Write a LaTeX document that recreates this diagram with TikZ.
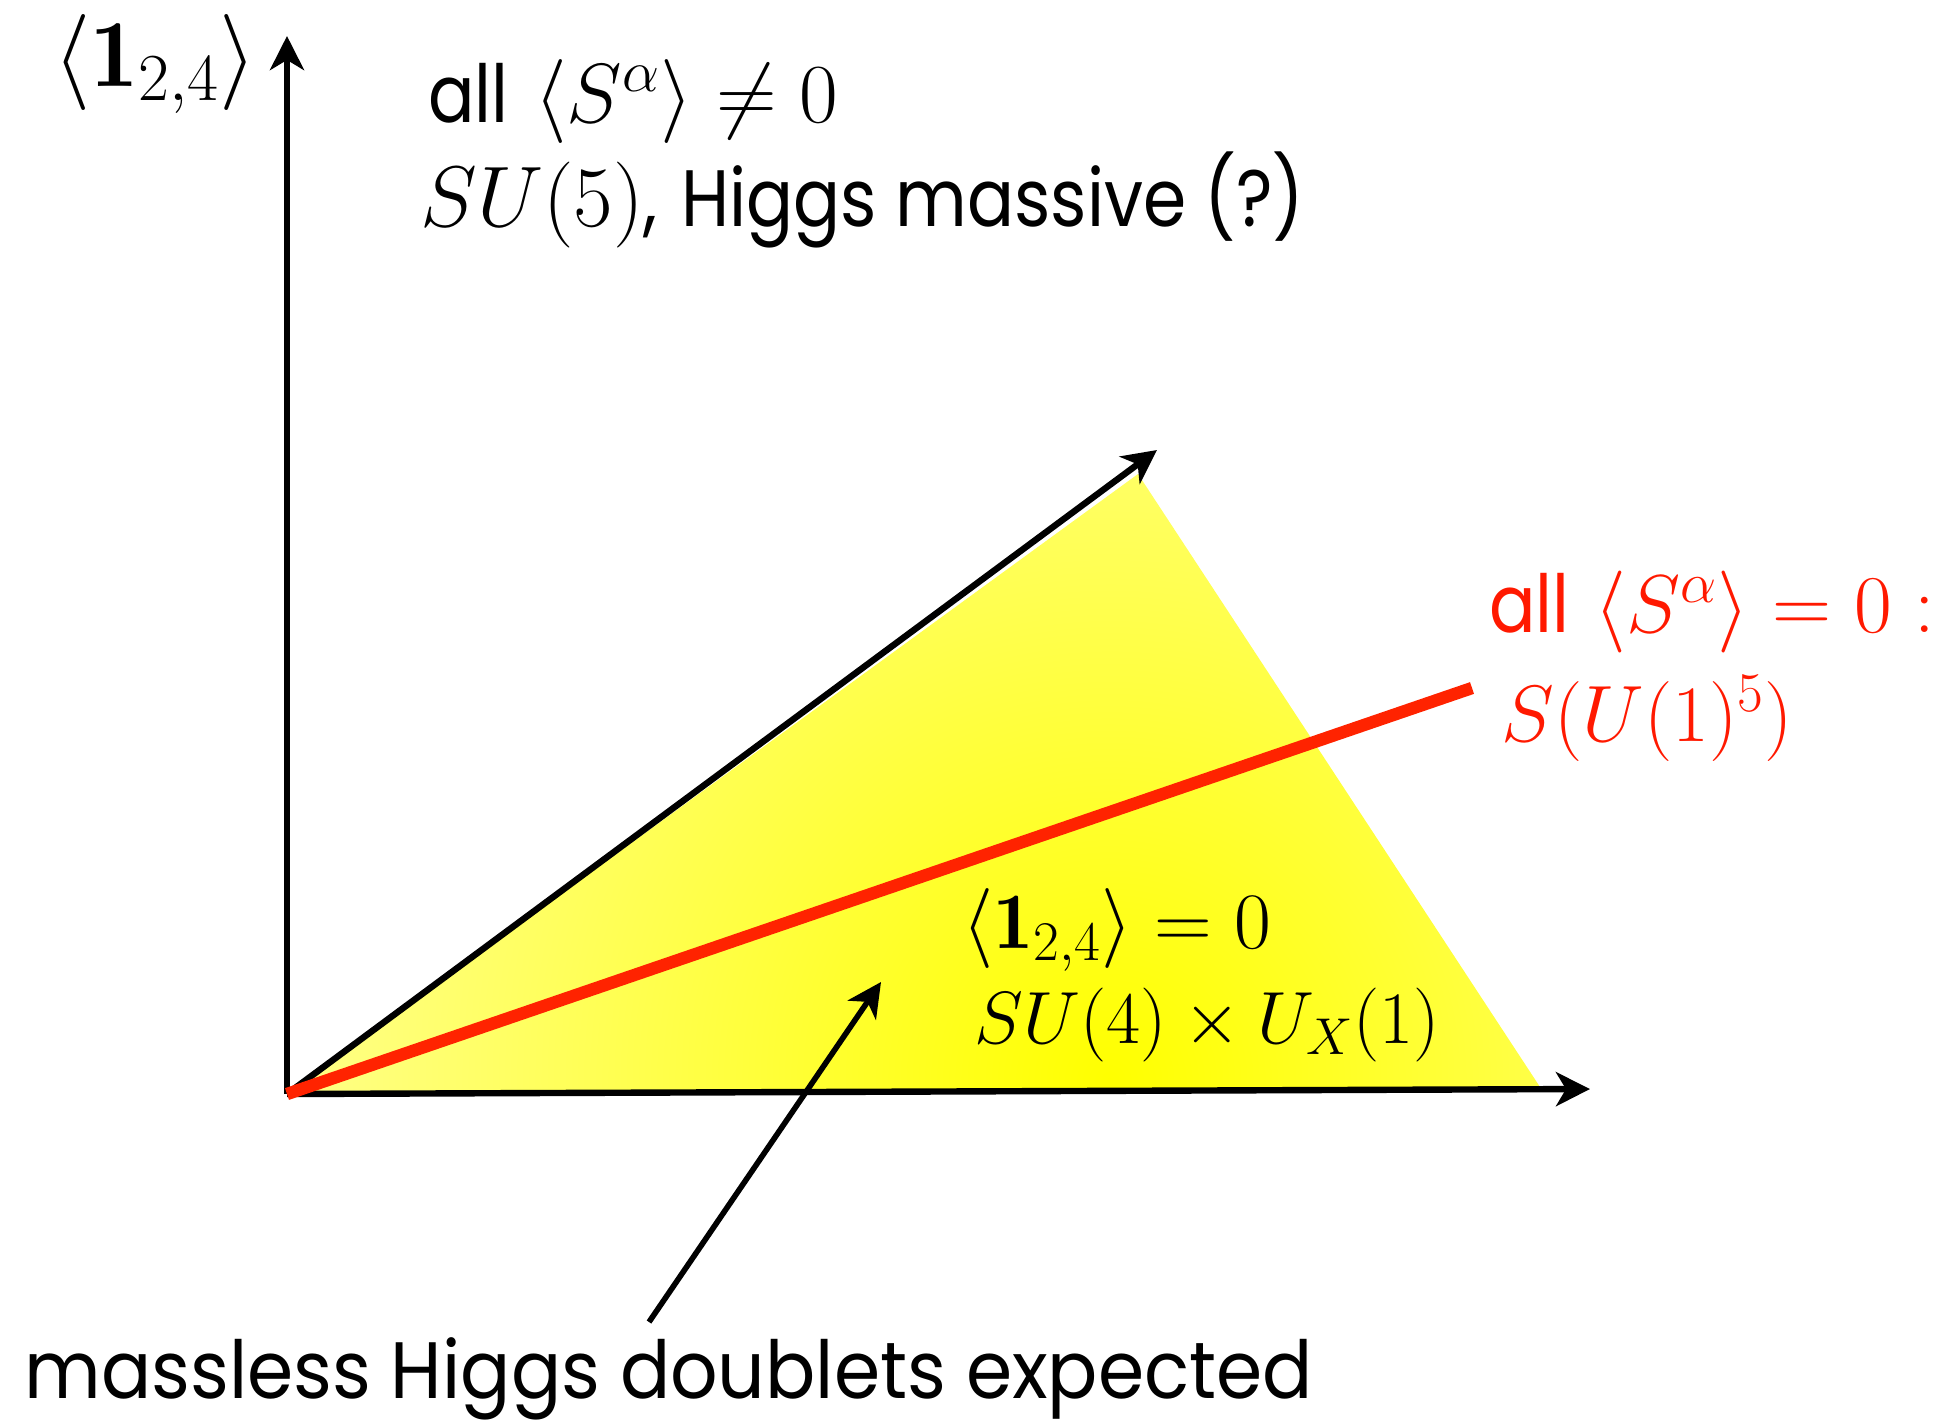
\RequirePackage{fix-cm}
\documentclass[tikz,border=0pt]{standalone}
\usepackage{graphicx}
\usepackage{fontspec}
\newfontfamily\chalk{Poppins}
\usetikzlibrary{arrows.meta}
\definecolor{lblred}{RGB}{255,25,0}
\definecolor{linered}{RGB}{255,35,0}
\newcommand{\chk}[2][0.86]{\scalebox{#1}[1]{\fontsize{40}{48}\chalk #2}}
\newcommand{\fs}[1]{\fontsize{#1}{#1}\selectfont}
\begin{document}
\begin{tikzpicture}[x=0.5pt,y=-0.5pt,
  tipstyle/.tip={Stealth[length=17pt,width=17pt,inset=5pt]},
  axis/.style={line width=3.2pt, -tipstyle},
  lbl/.style={anchor=base west, inner sep=0pt, font=\fs{38}},
]
\useasboundingbox (0,0) rectangle (1937,1425);
\coordinate (O) at (287,1094);
\coordinate (Ytip) at (287,36);
\coordinate (Xtip) at (1590,1089);
\coordinate (Dtip) at (1157,450);
\coordinate (Rend) at (1472,688);
\coordinate (Ttop) at (1138,474);
\coordinate (Tright) at (1540,1087);
\coordinate (Pstart) at (649,1322);
\coordinate (Ptip) at (881,982);
% yellow region
\begin{scope}
  \clip (O) -- (Ttop) -- (Tright) -- cycle;
  \shade[inner color=yellow, outer color=yellow!42!white] (1110,1080) circle (900);
\end{scope}
% axes
\draw[axis] (O) -- (Ytip);
\draw[axis] (O) -- (Xtip);
\draw[axis] (O) -- (Dtip);
\draw[line width=6.2pt, linered] (O) -- (Rend);
\draw[line width=2.8pt, -tipstyle] (Pstart) -- (Ptip);
% labels
\node[lbl, font=\fs{48}] (yl) at (53,86) {$\langle\mathbf{1}_{2,4}\rangle$};
\node[lbl, font=\fs{42}] (t1) at (428,122) {\chk{all} $\langle S^\alpha\rangle\neq 0$};
\node[lbl, font=\fs{43}] (t2) at (420,226) {$SU(5)$\chk[0.87]{,\hspace{3pt} Higgs massive (?)}};
\node[lbl, font=\fs{41}, text=lblred] (t3) at (1489,632) {\chk{all} $\langle S^\alpha\rangle=0:$};
\node[lbl, font=\fs{40}, text=lblred] (t4) at (1501,741) {$S(U(1)^5)$};
\node[lbl, font=\fs{40}] (t5) at (962,948) {$\langle\mathbf{1}_{2,4}\rangle=0$};
\node[lbl, font=\fs{37}] (t6) at (974,1043) {$SU(4)\times U_X(1)$};
\node[lbl] (t7) at (24,1398) {\chk[0.93]{massless Higgs doublets expected}};
\end{tikzpicture}
\end{document}
